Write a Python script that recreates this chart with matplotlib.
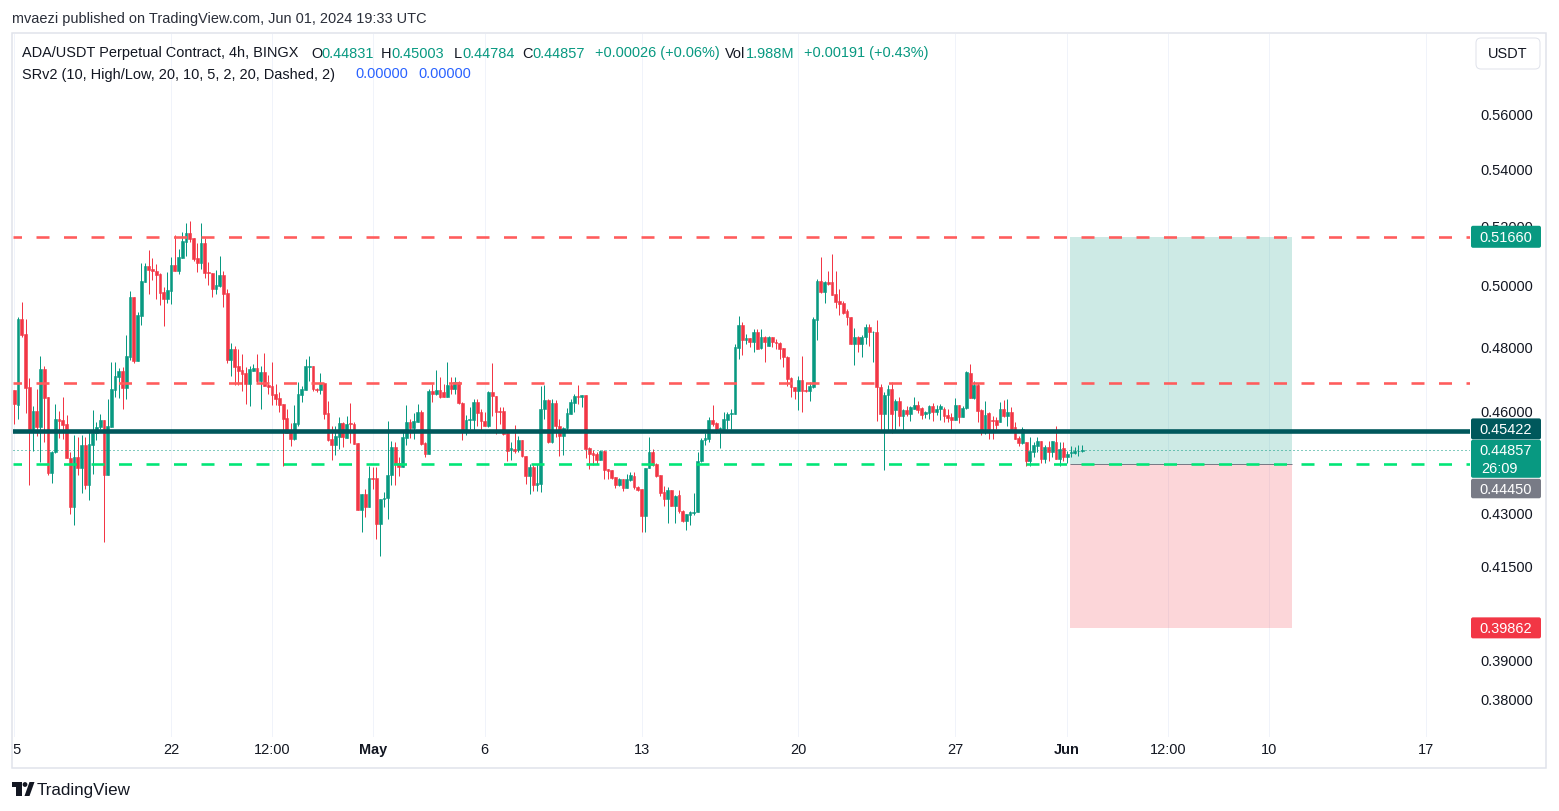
import matplotlib
matplotlib.use("Agg")
import matplotlib.pyplot as plt
import matplotlib.dates as mdates
from matplotlib.patches import Rectangle, FancyBboxPatch, Circle, Polygon
import numpy as np
import pandas as pd

plt.rcParams['font.family'] = ['Liberation Sans', 'DejaVu Sans']
plt.rcParams['lines.scale_dashes'] = False

# ------------------------------------------------------------------ data
start_time = "2024-04-15 00:00"   # first 4h candle

opens = [
    .4667, .4622, .4892, .4843, .4675, .4548, .4602, .4553, .4732, .4644,
    .4417, .4478, .4578, .4575, .4563, .4460, .4319, .4463, .4432, .4500,
    .4382, .4500, .4536, .4554, .4575, .4411, .4554, .4667, .4707, .4726,
    .4673, .4770, .4964, .4757, .4902, .5013, .5067, .5057, .5050, .5040,
    .4980, .4957, .4983, .5070, .5050, .5094, .5148, .5179, .5162, .5094,
    .5077, .5145, .5047, .5043, .4990, .5000, .5037, .4977, .4761, .4795,
    .4742, .4729, .4720, .4686, .4726, .4735, .4695, .4723, .4682, .4679,
    .4655, .4642, .4624, .4581, .4539, .4518, .4563, .4651, .4667, .4739,
    .4742, .4670, .4668, .4689, .4596, .4518, .4500, .4524, .4566, .4521,
    .4566, .4563, .4505, .4311, .4356, .4319, .4404, .4402, .4270, .4341,
    .4344, .4411, .4495, .4448, .4436, .4521, .4568, .4550, .4570, .4598,
    .4505, .4473, .4663, .4655, .4668, .4660, .4644, .4682, .4670, .4691,
    .4626, .4543, .4576, .4576, .4631, .4598, .4573, .4556, .4662, .4649,
    .4602, .4602, .4535, .4486, .4488, .4486, .4515, .4468, .4407, .4436,
    .4383, .4385, .4608, .4636, .4510, .4627, .4558, .4528, .4551, .4593,
    .4627, .4649, .4644, .4651, .4490, .4475, .4473, .4456, .4483, .4429,
    .4426, .4406, .4382, .4399, .4373, .4398, .4407, .4377, .4370, .4292,
    .4432, .4478, .4443, .4411, .4363, .4343, .4367, .4322, .4353, .4308,
    .4278, .4297, .4303, .4305, .4452, .4515, .4518, .4575, .4566, .4548,
    .4548, .4575, .4594, .4594, .4800, .4872, .4825, .4830, .4817, .4851,
    .4800, .4835, .4806, .4835, .4818, .4814, .4799, .4771, .4703, .4677,
    .4665, .4698, .4667, .4665, .4676, .4889, .5016, .4981, .5012, .5012,
    .4974, .4951, .4944, .4919, .4897, .4811, .4835, .4811, .4835, .4865,
    .4849, .4849, .4675, .4593, .4652, .4670, .4606, .4634, .4586, .4606,
    .4593, .4610, .4621, .4611, .4593, .4595, .4619, .4598, .4610, .4608,
    .4590, .4585, .4575, .4622, .4585, .4611, .4720, .4641, .4683, .4606,
    .4548, .4595, .4575, .4575, .4570, .4608, .4588, .4598, .4555, .4521,
    .4506, .4508, .4453, .4480, .4498, .4513, .4458, .4493, .4478, .4510,
    .4458, .4490, .4465, .4475, .4476, .4481, .44831,
]
highs = [
    .4667, .4900, .4947, .4892, .4704, .4619, .4670, .4773, .4742, .4644,
    .4483, .4624, .4602, .4644, .4590, .4478, .4530, .4524, .4530, .4524,
    .4545, .4605, .4568, .4593, .4575, .4639, .4754, .4754, .4735, .4739,
    .4840, .4983, .4964, .4915, .5077, .5077, .5121, .5094, .5073, .5043,
    .4997, .5047, .5097, .5172, .5124, .5182, .5213, .5220, .5162, .5145,
    .5213, .5162, .5080, .5043, .5053, .5100, .5050, .4990, .4814, .4805,
    .4795, .4779, .4739, .4742, .4748, .4779, .4742, .4783, .4714, .4754,
    .4686, .4661, .4624, .4608, .4566, .4621, .4692, .4679, .4764, .4773,
    .4742, .4673, .4720, .4689, .4633, .4556, .4556, .4583, .4568, .4588,
    .4627, .4570, .4505, .4356, .4370, .4439, .4434, .4434, .4343, .4361,
    .4573, .4513, .4508, .4463, .4538, .4621, .4578, .4595, .4624, .4606,
    .4508, .4670, .4686, .4729, .4706, .4686, .4753, .4706, .4706, .4696,
    .4629, .4590, .4614, .4639, .4639, .4608, .4600, .4665, .4751, .4649,
    .4614, .4614, .4538, .4510, .4560, .4528, .4515, .4468, .4443, .4440,
    .4443, .4678, .4683, .4639, .4639, .4637, .4578, .4553, .4611, .4639,
    .4655, .4682, .4651, .4651, .4493, .4486, .4480, .4485, .4485, .4429,
    .4427, .4406, .4404, .4401, .4414, .4419, .4419, .4379, .4370, .4432,
    .4523, .4488, .4446, .4411, .4380, .4375, .4367, .4353, .4368, .4310,
    .4300, .4308, .4359, .4480, .4520, .4535, .4583, .4622, .4568, .4555,
    .4598, .4598, .4608, .4811, .4903, .4881, .4843, .4830, .4859, .4859,
    .4859, .4838, .4838, .4835, .4829, .4819, .4799, .4774, .4706, .4677,
    .4711, .4772, .4691, .4691, .4900, .5023, .5098, .5018, .5049, .5107,
    .5049, .4990, .4951, .4924, .4900, .4862, .4838, .4840, .4876, .4876,
    .4854, .4889, .4686, .4662, .4683, .4691, .4639, .4644, .4608, .4619,
    .4619, .4644, .4634, .4615, .4603, .4622, .4626, .4621, .4624, .4614,
    .4608, .4596, .4641, .4622, .4619, .4725, .4748, .4696, .4689, .4608,
    .4634, .4598, .4588, .4585, .4629, .4637, .4639, .4614, .4568, .4528,
    .4553, .4508, .4523, .4510, .4523, .4513, .4500, .4513, .4513, .4558,
    .4508, .4508, .4483, .4498, .4493, .4501, .45003,
]
lows = [
    .4563, .4578, .4835, .4596, .4382, .4483, .4528, .4450, .4510, .4411,
    .4388, .4476, .4522, .4518, .4460, .4300, .4268, .4412, .4359, .4370,
    .4339, .4414, .4516, .4548, .4220, .4411, .4554, .4645, .4642, .4608,
    .4639, .4761, .4751, .4757, .4872, .5013, .4974, .5020, .4957, .4937,
    .4869, .4944, .4941, .5050, .5040, .5094, .5100, .5148, .5084, .5047,
    .5057, .5027, .5003, .4964, .4974, .4997, .4931, .4751, .4710, .4682,
    .4682, .4664, .4624, .4618, .4726, .4689, .4608, .4679, .4655, .4621,
    .4621, .4599, .4438, .4536, .4497, .4515, .4557, .4630, .4667, .4695,
    .4664, .4662, .4655, .4578, .4513, .4456, .4471, .4488, .4495, .4521,
    .4505, .4503, .4311, .4248, .4289, .4319, .4372, .4228, .4181, .4318,
    .4284, .4383, .4383, .4409, .4436, .4500, .4520, .4518, .4568, .4500,
    .4463, .4473, .4629, .4651, .4641, .4644, .4644, .4655, .4655, .4623,
    .4515, .4530, .4548, .4543, .4558, .4543, .4556, .4553, .4588, .4533,
    .4563, .4531, .4453, .4456, .4476, .4478, .4463, .4385, .4356, .4365,
    .4365, .4361, .4578, .4506, .4506, .4523, .4466, .4471, .4540, .4593,
    .4600, .4624, .4614, .4460, .4429, .4440, .4443, .4456, .4401, .4399,
    .4399, .4373, .4379, .4364, .4373, .4395, .4370, .4365, .4247, .4248,
    .4432, .4439, .4406, .4350, .4322, .4273, .4322, .4273, .4301, .4275,
    .4254, .4267, .4296, .4305, .4449, .4500, .4510, .4557, .4536, .4490,
    .4548, .4548, .4548, .4594, .4764, .4776, .4811, .4801, .4785, .4795,
    .4797, .4753, .4806, .4803, .4795, .4764, .4738, .4678, .4646, .4639,
    .4606, .4600, .4660, .4634, .4673, .4825, .4977, .4943, .5003, .4970,
    .4927, .4905, .4908, .4872, .4813, .4745, .4787, .4771, .4813, .4806,
    .4753, .4573, .4538, .4427, .4543, .4536, .4543, .4558, .4543, .4586,
    .4571, .4608, .4595, .4578, .4580, .4578, .4571, .4591, .4576, .4568,
    .4568, .4545, .4575, .4566, .4585, .4608, .4641, .4639, .4568, .4530,
    .4533, .4518, .4518, .4548, .4570, .4585, .4558, .4548, .4518, .4498,
    .4503, .4437, .4437, .4463, .4478, .4448, .4448, .4453, .4463, .4458,
    .4439, .4453, .4448, .4463, .4473, .4468, .44784,
]
closes = [
    .4624, .4892, .4840, .4673, .4548, .4602, .4553, .4732, .4642, .4417,
    .4478, .4578, .4572, .4560, .4460, .4319, .4463, .4432, .4500, .4382,
    .4503, .4536, .4554, .4575, .4411, .4557, .4670, .4710, .4726, .4673,
    .4773, .4964, .4757, .4905, .5017, .5067, .5053, .5050, .5037, .4977,
    .4957, .4987, .5070, .5050, .5097, .5151, .5179, .5158, .5090, .5077,
    .5145, .5043, .5043, .4990, .5003, .5037, .4974, .4761, .4795, .4739,
    .4726, .4717, .4686, .4732, .4735, .4695, .4723, .4679, .4676, .4651,
    .4639, .4621, .4578, .4536, .4518, .4566, .4655, .4670, .4742, .4742,
    .4670, .4667, .4689, .4594, .4516, .4501, .4526, .4566, .4523, .4563,
    .4563, .4503, .4311, .4356, .4319, .4404, .4401, .4270, .4343, .4346,
    .4411, .4495, .4446, .4436, .4525, .4568, .4551, .4572, .4598, .4503,
    .4473, .4663, .4655, .4668, .4644, .4644, .4682, .4670, .4691, .4626,
    .4543, .4575, .4578, .4631, .4596, .4573, .4558, .4662, .4647, .4600,
    .4600, .4533, .4483, .4490, .4481, .4515, .4466, .4407, .4436, .4383,
    .4388, .4608, .4636, .4510, .4627, .4558, .4528, .4551, .4596, .4629,
    .4649, .4644, .4651, .4488, .4473, .4471, .4456, .4483, .4427, .4422,
    .4404, .4382, .4399, .4373, .4399, .4411, .4375, .4368, .4292, .4432,
    .4478, .4440, .4409, .4359, .4343, .4367, .4322, .4351, .4306, .4278,
    .4299, .4305, .4305, .4453, .4515, .4521, .4575, .4563, .4546, .4550,
    .4578, .4593, .4596, .4803, .4872, .4825, .4830, .4817, .4851, .4797,
    .4835, .4817, .4835, .4817, .4814, .4795, .4769, .4701, .4675, .4665,
    .4698, .4665, .4665, .4680, .4892, .5016, .4979, .5012, .5007, .4971,
    .4946, .4941, .4913, .4897, .4813, .4835, .4811, .4835, .4867, .4849,
    .4851, .4675, .4593, .4652, .4670, .4593, .4634, .4586, .4606, .4593,
    .4615, .4621, .4605, .4590, .4598, .4619, .4598, .4610, .4619, .4588,
    .4581, .4575, .4622, .4585, .4611, .4722, .4641, .4683, .4603, .4546,
    .4590, .4548, .4571, .4561, .4608, .4588, .4598, .4548, .4518, .4506,
    .4548, .4453, .4483, .4500, .4513, .4458, .4493, .4478, .4511, .4458,
    .4488, .4463, .4473, .4478, .4483, .44831, .44857,
]

# SRv2 levels
sr_upper = 0.5166
sr_middle = 0.4688
sr_support = 0.4445
sr_pivot = 0.45422
last_close = 0.44857

# long position tool
pos_target = 0.51660
pos_entry = 0.44450
pos_stop = 0.39862
pos_start = "2024-06-01 03:00"
pos_end = "2024-06-11 01:00"

price_ticks = [0.56, 0.54, 0.52, 0.50, 0.48, 0.46, 0.43, 0.415, 0.40, 0.39, 0.38]
time_tick_dates = ["2024-04-15", "2024-04-22", "2024-04-26 12:00", "2024-05-01",
                   "2024-05-06", "2024-05-13", "2024-05-20", "2024-05-27",
                   "2024-06-01", "2024-06-05 12:00", "2024-06-10", "2024-06-17"]
time_tick_labels = ["15", "22", "12:00", "May", "6", "13", "20", "27",
                    "Jun", "12:00", "10", "17"]
time_tick_bold = ["May", "Jun"]

header_text = "mvaezi published on TradingView.com, Jun 01, 2024 19:33 UTC"
legend_row1 = [("ADA/USDT Perpetual Contract, 4h, BINGX", 22, "dark"),
               ("O", 311, "dark"), ("0.44831", 321, "up"),
               ("H", 381, "dark"), ("0.45003", 391, "up"),
               ("L", 454, "dark"), ("0.44784", 462, "up"),
               ("C", 522, "dark"), ("0.44857", 532, "up"),
               ("+0.00026 (+0.06%)", 595, "up"),
               ("Vol", 725, "dark"), ("1.988M", 746, "up"),
               ("+0.00191 (+0.43%)", 804, "up")]
legend_row2 = [("SRv2 (10, High/Low, 20, 10, 5, 2, 20, Dashed, 2)", 22, "dark"),
               ("0.00000", 355, "blue"), ("0.00000", 418, "blue")]
countdown = "26:09"

# ------------------------------------------------------------------ style
W, H, DPI = 1559, 812, 100
PX = 72.0 / DPI
UP = "#089981"
DOWN = "#F23645"
DARK = "#131722"
PIVOT = "#00585C"
RED_DASH = "#FF5C5C"
GREEN_DASH = "#00E676"
GRID = "#F0F3FA"
GREY = "#787B86"
colmap = {"dark": DARK, "up": UP, "blue": "#2962FF"}
FS = 14.5 * PX

fig = plt.figure(figsize=(W / DPI, H / DPI), dpi=DPI)
fig.patch.set_facecolor("white")

PL, PR, PT, PB = 13, 1470, 35, 738
ax = fig.add_axes([PL / W, 1 - PB / H, (PR - PL) / W, (PB - PT) / H])
ax.set_yscale("log")
ax.axis("off")

times = pd.date_range(start_time, periods=len(opens), freq="4h")
x = mdates.date2num(times)
t0 = x[0]
ax.set_xlim(t0 - 0.058, t0 + 64.98)
ax.set_ylim(0.37080, 0.59093)

o = np.array(opens); h = np.array(highs); l = np.array(lows); c = np.array(closes)
up = c >= o
cols = np.where(up, UP, DOWN)

# grid
for d in time_tick_dates:
    ax.axvline(mdates.date2num(pd.Timestamp(d)), color=GRID, lw=1 * PX, zorder=0.5)

# position tool
xs = mdates.date2num(pd.Timestamp(pos_start))
xe = mdates.date2num(pd.Timestamp(pos_end))
ax.add_patch(Rectangle((xs, pos_entry), xe - xs, pos_target - pos_entry,
                       facecolor=UP, alpha=0.2, lw=0, zorder=1))
ax.add_patch(Rectangle((xs, pos_stop), xe - xs, pos_entry - pos_stop,
                       facecolor=DOWN, alpha=0.2, lw=0, zorder=1))

# candles
ax.vlines(x, l, h, colors=cols, lw=1 * PX, zorder=3)
bot = np.minimum(o, c)
top = np.maximum(o, c)
ax.bar(x, top - bot, bottom=bot, width=4 / 24 * 0.74, color=cols,
       edgecolor=cols, lw=0.4, zorder=3.1)

ax.hlines(pos_entry, xs, xe, color=GREY, lw=1 * PX, zorder=4)

# indicator lines
dash = (4.5 * PX, (13 * PX, 14.5 * PX))
ax.axhline(sr_upper, color=RED_DASH, lw=2.6 * PX, linestyle=dash, zorder=5)
ax.axhline(sr_middle, color=RED_DASH, lw=2.6 * PX, linestyle=dash, zorder=5)
ax.axhline(sr_support, color=GREEN_DASH, lw=2.6 * PX, linestyle=dash, zorder=5)
ax.axhline(sr_pivot, color=PIVOT, lw=4.6 * PX, zorder=5.5)
ax.axhline(last_close, color=UP, lw=1 * PX, linestyle=(0, (1 * PX, 3 * PX)), zorder=4.5)

# ------------------------------------------------------------------ overlay
ov = fig.add_axes([0, 0, 1, 1], zorder=10)
ov.set_xlim(0, W)
ov.set_ylim(H, 0)
ov.axis("off")


def py(p):
    return H - ax.transData.transform((t0, p))[1]


# frame
ov.add_patch(Rectangle((12.5, 33.5), 1534, 735, fill=False, ec="#E0E3EB", lw=1.5 * PX))

# header and legend
ov.text(12, 19, header_text, fontsize=FS, color="#2A2E39", va="center", ha="left")
for s, xx, cc in legend_row1:
    ov.text(xx, 53.5, s, fontsize=FS, color=colmap[cc], va="center", ha="left")
for s, xx, cc in legend_row2:
    ov.text(xx, 74.5, s, fontsize=FS, color=colmap[cc], va="center", ha="left")

# USDT button
ov.add_patch(FancyBboxPatch((1476, 39), 64, 31, boxstyle="round,pad=0,rounding_size=5",
                            fc="white", ec="#E0E3EB", lw=1 * PX))
ov.text(1508, 54.5, "USDT", fontsize=FS, color=DARK, ha="center", va="center")

# price ticks
for p in price_ticks:
    ov.text(1507, py(p), f"{p:.5f}", fontsize=FS, color=DARK, ha="center", va="center", zorder=1)


def label(yc, hgt, color, txt):
    ov.add_patch(FancyBboxPatch((1471, yc - hgt / 2), 70, hgt,
                                boxstyle="round,pad=0,rounding_size=2",
                                fc=color, ec="none", zorder=5))
    ov.text(1506, yc, txt, fontsize=FS, color="white", ha="center",
            va="center", zorder=6)


label(py(pos_target), 22, UP, f"{pos_target:.5f}")
label(py(sr_pivot) - 2, 21, PIVOT, f"{sr_pivot:.5f}")
# last price (two lines)
yl = py(last_close)
ov.add_patch(FancyBboxPatch((1471, yl - 10), 70, 38, boxstyle="round,pad=0,rounding_size=2",
                            fc=UP, ec="none", zorder=5))
ov.text(1506, yl, f"{last_close:.5f}", fontsize=FS, color="white", ha="center",
        va="center", zorder=6)
ov.text(1481, yl + 18, countdown, fontsize=FS, color="white", ha="left",
        va="center", zorder=6)
label(yl + 28 + 1 + 9.75, 19.5, GREY, f"{pos_entry:.5f}")
label(py(pos_stop), 21, DOWN, f"{pos_stop:.5f}")

# time axis labels (clipped to pane width)
clip_left = 14.3
tax = fig.add_axes([clip_left / W, 1 - 768 / H, (PR - clip_left) / W, 30 / H], zorder=9)
tax.set_xlim(ax.transData.inverted().transform((clip_left, 0))[0], ax.get_xlim()[1])
tax.set_ylim(0, 30)
tax.axis("off")
for d, s in zip(time_tick_dates, time_tick_labels):
    tax.text(mdates.date2num(pd.Timestamp(d)), 18, s, fontsize=FS, color=DARK,
             ha="center", va="center", clip_on=True,
             fontweight="bold" if s in time_tick_bold else "normal")

# TradingView logo + wordmark
ov.add_patch(Rectangle((12, 783), 10, 4.5, fc=DARK, ec="none"))
ov.add_patch(Rectangle((16.5, 783), 5.5, 14, fc=DARK, ec="none"))
ov.add_patch(Circle((25, 785.5), 2.4, fc=DARK, ec="none"))
ov.add_patch(Polygon([(24.5, 797), (29.5, 797), (34.5, 783), (29.5, 783)], closed=True,
                     fc=DARK, ec="none"))
ov.text(37, 790.5, "TradingView", fontsize=17 * PX, color=DARK, ha="left", va="center")

fig.savefig("out.png", dpi=DPI, facecolor="white")
